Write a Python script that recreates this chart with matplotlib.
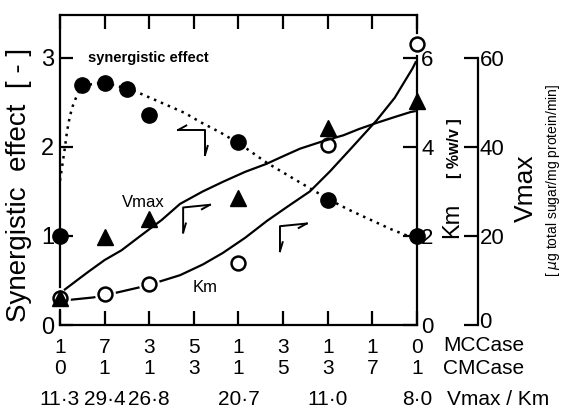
import numpy as np
import matplotlib
matplotlib.use('Agg')
import matplotlib.pyplot as plt
import matplotlib.transforms as mtransforms

plt.rcParams['font.family'] = ['Liberation Sans', 'DejaVu Sans']

# x positions: index along mixing ratio MCCase:CMCase (1:0 ... 0:1)
mc_row = ['1', '7', '3', '5', '1', '3', '1', '1', '0']
cmc_row = ['0', '1', '1', '3', '1', '5', '3', '7', '1']
ratio_x = [0, 1, 2, 4, 6, 8]
ratio_lab = ['11·3', '29·4', '26·8', '20·7', '11·0', '8·0']

# synergistic effect (filled circles)
syn_x = [0, 0.5, 1, 1.5, 2, 4, 6, 8]
syn_y = [1.0, 2.69, 2.72, 2.65, 2.36, 2.06, 1.40, 1.0]
# dotted guide curve
syn_cx = [0, 0.06, 0.11, 0.16, 0.22, 0.28, 0.34, 0.45, 0.55, 0.8, 1.0, 1.3, 1.55, 1.75, 2.3, 2.8,
          3.14, 3.6, 4.04, 4.64, 5.38, 6.03, 6.45, 6.88, 7.4, 7.85, 8]
syn_cy = [1.62, 1.82, 1.99, 2.18, 2.34, 2.45, 2.53, 2.64, 2.69, 2.71, 2.72, 2.68, 2.65, 2.61, 2.49, 2.38,
          2.28, 2.16, 2.03, 1.82, 1.60, 1.41, 1.30, 1.20, 1.08, 0.99, 0.98]

# Vmax (filled triangles) [ug total sugar/mg protein/min]
vm_x = [0, 1, 2, 4, 6, 8]
vm_y = [6.0, 19.8, 23.8, 28.6, 44.2, 50.2]
vm_cx = [0.11, 0.4, 0.64, 1.0, 1.38, 1.8, 2.28, 2.69, 3.2, 3.66, 4.15, 4.63, 5.0, 5.38, 5.9, 6.35,
         6.7, 7.1, 7.5, 7.85, 7.95]
vm_cy = [8.0, 10.2, 12.0, 14.6, 16.8, 20.0, 23.6, 27.2, 30.0, 32.2, 34.4, 36.2, 37.9, 39.6, 41.3, 42.6,
         44.0, 45.4, 46.7, 47.8, 48.0]

# Km (open circles) [%w/v]
km_x = [0, 1, 2, 4, 6, 8]
km_y = [0.6, 0.7, 0.92, 1.4, 4.05, 6.3]
km_cx = [0.15, 0.74, 1.23, 1.75, 2.24, 2.69, 3.2, 3.65, 4.15, 4.64, 5.1, 5.6, 6.05, 6.5, 7.1, 7.5, 7.9, 7.97]
km_cy = [0.56, 0.62, 0.72, 0.84, 0.98, 1.12, 1.36, 1.62, 1.96, 2.34, 2.66, 3.0, 3.45, 3.94, 4.6, 5.1, 5.76, 5.9]

# stray corner marks on the scan (anchor in data coords of left axis)
corner_marks = [(3.25, 2.19, 'tr'), (2.76, 1.32, 'tl'), (4.93, 1.11, 'tl')]

lw = 1.6
fig = plt.figure(figsize=(5.68, 4.11), dpi=100)
ax = fig.add_axes([0.1056, 0.209, 0.6285, 0.7545])
ax.set_xlim(0, 8)
ax.set_ylim(0, 3.48)

for s in ax.spines.values():
    s.set_linewidth(lw)

ax.set_xticks(range(9))
ax.set_xticklabels([a + '\n' + b for a, b in zip(mc_row, cmc_row)], fontsize=15, linespacing=1.15)
ax.tick_params(axis='x', direction='in', top=True, length=10, width=lw, pad=9)
ax.set_yticks([0, 1, 2, 3])
ax.set_yticklabels(['0', '1', '2', '3'], fontsize=17)
ax.tick_params(axis='y', direction='in', length=9, width=lw, pad=4)
fig.text(19 / 568, 1 - 185 / 411, 'Synergistic  effect  [ - ]', rotation=90, ha='center', va='center', fontsize=20)

for xv, lab in zip(ratio_x, ratio_lab):
    ax.text(xv, -0.24, lab, transform=ax.get_xaxis_transform(), ha='center', va='center', fontsize=15)
ax.text(1.073, -0.066, 'MCCase', transform=ax.transAxes, ha='left', va='center', fontsize=15)
ax.text(1.073, -0.14, 'CMCase', transform=ax.transAxes, ha='left', va='center', fontsize=15)
ax.text(1.084, -0.24, 'Vmax / Km', transform=ax.transAxes, ha='left', va='center', fontsize=15)

# Km axis on the right spine
axk = ax.twinx()
axk.set_ylim(0, 6.96)
axk.set_yticks([0, 2, 4, 6])
axk.set_yticklabels(['0', '2', '4', '6'], fontsize=16)
axk.tick_params(axis='y', direction='in', length=10, width=lw, pad=3)
for s in axk.spines.values():
    s.set_visible(False)
fig.text(452 / 568, 1 - 220 / 411, 'Km', rotation=90, ha='center', va='center', fontsize=17)
fig.text(454 / 568, 1 - 148 / 411, '[ %w/v ]', rotation=90, ha='center', va='center', fontsize=11.5,
         fontweight='bold')

# Vmax axis, offset to the right
axv = ax.twinx()
axv.set_ylim(0, 69.6)
for k, s in axv.spines.items():
    s.set_visible(k == 'right')
axv.spines['right'].set_position(('axes', 1.171))
axv.spines['right'].set_bounds(0, 60)
axv.spines['right'].set_linewidth(lw)
axv.set_yticks([0, 20, 40, 60])
axv.set_yticklabels(['0', '20', '40', '60'], fontsize=16)
axv.tick_params(axis='y', direction='in', length=10, width=lw, pad=1)
# lift the bottom "0" a little so it clears the MCCase label
zero_lab = axv.get_yticklabels()[0]
zero_lab.set_transform(zero_lab.get_transform() + mtransforms.ScaledTranslation(0, 4 / 72, fig.dpi_scale_trans))
fig.text(526 / 568, 1 - 188 / 411, 'Vmax', rotation=90, ha='center', va='center', fontsize=19)
fig.text(553 / 568, 1 - 180 / 411, '[ $\\mu$g total sugar/mg protein/min]', rotation=90,
         ha='center', va='center', fontsize=10)

# curves
ax.plot(syn_cx, syn_cy, ls=(0, (1, 2)), color='k', lw=1.8)
axv.plot(vm_cx, vm_cy, color='k', lw=lw)
axk.plot(km_cx, km_cy, color='k', lw=lw)

# markers (white halo first to break lines like the original)
ax.plot(syn_x, syn_y, 'o', ms=11, color='k', clip_on=False, zorder=5)
axv.plot(vm_x, vm_y, '^', ms=11, color='k', clip_on=False, zorder=5)
axk.plot(km_x, km_y, 'o', ms=14, color='w', mec='w', clip_on=False, zorder=4)
axk.plot(km_x, km_y, 'o', ms=10, mfc='w', mec='k', mew=1.8, clip_on=False, zorder=5)

ax.text(0.63, 3.0, 'synergistic effect', fontsize=10.5, fontweight='bold', ha='left', va='center')
ax.text(1.39, 1.38, 'Vmax', fontsize=12, ha='left', va='center')
ax.text(2.98, 0.42, 'Km', fontsize=12, ha='left', va='center')

# small corner marks
for cx, cy, kind in corner_marks:
    dx, dy = 0.6, 0.28
    if kind == 'tr':
        ax.plot([cx - dx, cx, cx], [cy, cy, cy - dy], color='k', lw=1.4)
        ax.plot([cx - dx, cx - dx + 0.18], [cy, cy + 0.05], color='k', lw=1.4)
        ax.plot([cx, cx + 0.06], [cy - dy, cy - dy + 0.1], color='k', lw=1.4)
    else:
        ax.plot([cx + dx, cx, cx], [cy + 0.03, cy, cy - dy], color='k', lw=1.4)
        ax.plot([cx + dx, cx + dx - 0.18], [cy + 0.03, cy - 0.02], color='k', lw=1.4)
        ax.plot([cx, cx + 0.06], [cy - dy, cy - dy + 0.1], color='k', lw=1.4)

fig.savefig('out.png', dpi=100)
